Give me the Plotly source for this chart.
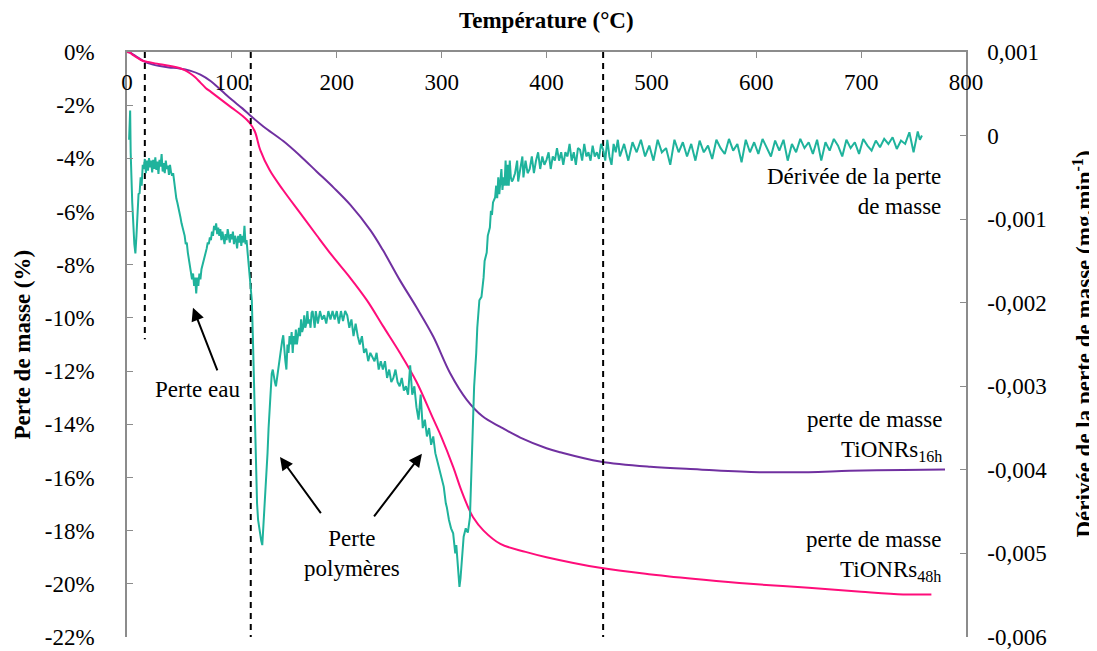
import plotly.graph_objects as go

# ---------------- data ----------------
temp_16h = [0, 3, 6, 10, 15, 20, 30, 40, 50, 60, 70, 80, 90, 100, 110, 117, 130, 149, 165, 181,
            197, 213, 232, 244, 260, 276, 292, 308, 324, 339, 356, 375, 400, 413, 451, 499,
            546, 603, 650, 689, 740, 780]
mass_16h = [0, -0.02, -0.1, -0.2, -0.32, -0.42, -0.52, -0.58, -0.62, -0.7, -0.85, -1.1, -1.45, -1.8,
            -2.12, -2.37, -2.8, -3.35, -3.9, -4.5, -5.1, -5.75, -6.7, -7.45, -8.57, -9.6, -10.7,
            -12.07, -13.08, -13.7, -14.1, -14.5, -14.9, -15.05, -15.4, -15.6, -15.7, -15.8, -15.8,
            -15.75, -15.72, -15.7]

temp_48h = [0, 3, 6, 10, 15, 20, 30, 40, 50, 55, 60, 65, 70, 75, 80, 90, 100, 110, 117, 122, 127,
            136, 149, 165, 181, 196, 213, 229, 244, 260, 276, 292, 300, 311, 318,
            324, 330, 340, 356, 380, 400, 451, 500, 550, 594, 650, 700, 740, 767]
mass_48h = [0, -0.03, -0.12, -0.22, -0.33, -0.38, -0.45, -0.52, -0.6, -0.68, -0.8, -0.95, -1.15,
            -1.35, -1.5, -1.8, -2.1, -2.4, -2.67, -3.0, -3.68, -4.44, -5.2, -6.05, -6.9, -7.68,
            -8.5, -9.35, -10.3, -11.3, -12.4, -13.8, -14.5, -15.6, -16.4, -17.0, -17.5,
            -18.0, -18.5, -18.8, -19.0, -19.4, -19.65, -19.85, -20.0, -20.15, -20.3, -20.4, -20.4]

temp_deriv = [2, 3, 3.5, 5, 7, 8, 9, 10, 11, 12, 13, 14, 15, 16,
              17, 18, 19, 20, 21, 22, 23, 24, 25, 26, 27, 28, 29, 30, 31, 32, 33, 34, 35, 36, 37, 38,
              39, 40, 41, 42, 43,
              44, 45, 46, 47, 48, 49, 50, 51, 52, 53, 54, 55, 56, 57, 58, 59, 60, 61, 62, 63, 64, 65,
              66, 67, 68, 69, 70, 71, 72, 73, 74, 75, 76, 77, 78, 79, 80, 81, 82, 83, 84, 85, 86, 87,
              88, 89, 90, 91, 92, 93, 94, 95, 96, 97, 98, 99, 100, 101, 102, 103, 104, 105, 106, 107,
              108, 109, 110, 111, 112, 113, 114, 115, 116, 117, 118, 119, 120, 121, 122, 123, 124,
              125, 126, 127, 128, 129, 130, 131, 132, 133, 134, 135, 136, 137, 138, 139, 140, 141,
              142, 143, 144, 145, 146, 147, 148, 149, 150, 151, 152, 153, 154, 155, 156, 157, 158,
              159, 160, 161, 162, 163, 164, 165, 166, 167, 168, 169, 170, 171, 172, 173, 174, 175,
              176, 177, 178, 179, 180, 182, 184, 186, 188, 190, 192, 194, 196, 198, 200, 202, 204,
              206, 208, 210, 212, 214, 216, 218, 220, 222, 224, 226, 228, 230, 232, 234, 236, 238,
              240, 242, 244, 246, 248, 250, 252, 254, 256, 258, 260, 262, 264, 266, 268, 270, 271,
              272, 274, 276, 278, 279, 280, 281, 282, 284, 286, 288, 290, 292, 294, 296, 298, 300,
              302, 304, 305, 307, 309, 311, 313, 314, 316, 317, 318, 319, 320, 321, 323, 325, 327,
              328, 329, 330, 331, 333, 334, 336, 338, 340, 341, 343, 344, 346, 347, 348, 349, 351,
              352, 353, 354, 355, 356, 357, 358, 359, 360, 361, 362, 363, 364, 365, 366, 367, 368,
              370, 372, 373, 375, 377, 378, 380, 382, 384, 386, 388, 390, 392, 394, 396, 398, 400,
              402, 404, 406, 408, 410, 412, 414, 416, 418, 420, 422, 424, 426, 428, 430, 432, 434,
              436, 438, 440, 442, 444, 446, 448, 450, 452, 454, 456, 458, 460, 462, 464, 466, 468,
              470, 474, 478, 482, 486, 490, 494, 498, 502, 506, 510, 514, 518, 522, 526, 530, 534,
              538, 542, 546, 550, 554, 558, 562, 566, 570, 574, 578, 582, 586, 590, 594, 598, 602,
              606, 610, 614, 618, 622, 626, 630, 634, 638, 642, 646, 650, 654, 658, 662, 666, 670,
              674, 678, 682, 686, 690, 694, 698, 702, 706, 710, 714, 718, 722, 726, 730, 734, 738,
              742, 746, 750, 754, 756, 758, 760, 762, 764, 767]
deriv = [-0.00005, 0.0003, -0.0002, -0.0008, -0.0013, -0.00141, -0.0012, -0.0009, -0.0007, -0.00069,
         -0.0005, -0.0006, -0.00035, -0.0004,
         -0.00028, -0.00045, -0.0003, -0.00042, -0.00027, -0.00038, -0.0003, -0.00044, -0.00029,
         -0.0004, -0.00026, -0.00041, -0.00031, -0.00046, -0.00029, -0.00037, -0.00022, -0.00043,
         -0.00033, -0.00045, -0.0003, -0.0004, -0.00036, -0.00047, -0.00035, -0.00044, -0.00048,
         -0.00045, -0.00058, -0.00062, -0.00075, -0.0008, -0.00085, -0.0009, -0.00098, -0.00105,
         -0.0011, -0.00118, -0.0012, -0.0013, -0.00128, -0.0014, -0.00148, -0.00152, -0.0016,
         -0.00172, -0.00165, -0.0018, -0.0017,
         -0.00189, -0.0017, -0.0018, -0.00165, -0.00172, -0.0016, -0.00155, -0.00153, -0.00148,
         -0.0014, -0.00135, -0.00128, -0.0013, -0.00122, -0.00125, -0.00115, -0.0012, -0.00108,
         -0.00113, -0.00105, -0.00118, -0.0011,
         -0.0012, -0.00112, -0.00125, -0.00115, -0.00122, -0.0013, -0.00118, -0.00125, -0.00112,
         -0.00122, -0.00128, -0.00118, -0.00124, -0.00115, -0.0013, -0.0012, -0.00125, -0.00135,
         -0.0012, -0.00128,
         -0.00118, -0.00132, -0.0012, -0.00128, -0.00108, -0.0013, -0.00125, -0.0014, -0.00155,
         -0.0016, -0.00175, -0.00197, -0.0024, -0.003, -0.0036, -0.0041, -0.0044,
         -0.0046, -0.0047, -0.0048, -0.00485, -0.0049, -0.0047, -0.0044, -0.0042, -0.004, -0.0038,
         -0.0035, -0.0033, -0.0031, -0.00285, -0.0028, -0.0029, -0.00295,
         -0.003, -0.0029, -0.0028, -0.0027, -0.0026, -0.0025, -0.00245, -0.00239, -0.0026, -0.0027,
         -0.0028, -0.0025, -0.0026, -0.0024, -0.0025, -0.00235, -0.0026,
         -0.0024, -0.0025, -0.00232, -0.0025, -0.0024, -0.0023, -0.0024, -0.0022, -0.00235, -0.0023,
         -0.00215, -0.0023, -0.00225, -0.0021, -0.00225, -0.0022, -0.0023,
         -0.00212, -0.0021, -0.0022, -0.0023, -0.0021, -0.00225, -0.0021, -0.0022, -0.00215,
         -0.00225, -0.0021, -0.0022, -0.0021, -0.0022, -0.0021, -0.00225, -0.0021,
         -0.00222, -0.0021, -0.00215, -0.0023, -0.0022, -0.0024, -0.00225, -0.0024, -0.0025,
         -0.0024, -0.0026, -0.00255, -0.0027, -0.0026, -0.00265, -0.0027, -0.0026,
         -0.0028, -0.0027, -0.0028, -0.0027, -0.0029, -0.0028, -0.00295, -0.0029, -0.0028,
         -0.00295, -0.003, -0.0029, -0.00305, -0.003, -0.0031, -0.00275, -0.003,
         -0.0031, -0.003, -0.00325, -0.0034, -0.0032, -0.0031, -0.0033, -0.0035, -0.0034, -0.0036,
         -0.0035, -0.0037, -0.0036, -0.0038, -0.0039, -0.004, -0.0041,
         -0.0042, -0.0044, -0.00445, -0.0046, -0.0047, -0.00476, -0.005, -0.0049, -0.0052, -0.0054,
         -0.0053, -0.0051, -0.0049, -0.0048, -0.0047, -0.00475, -0.00457,
         -0.0042, -0.0038, -0.0035, -0.003, -0.0026, -0.0023, -0.00197, -0.00193, -0.0017, -0.0015,
         -0.0014, -0.0012, -0.0011, -0.0009, -0.00095, -0.0008, -0.00074,
         -0.0006, -0.00075, -0.0005, -0.0007, -0.00053, -0.0004, -0.00065, -0.0005, -0.0006, -0.0003,
         -0.0006, -0.00035, -0.0006, -0.0003, -0.0005, -0.00055, -0.00053,
         -0.00045, -0.0003, -0.00055, -0.0004, -0.00025, -0.0005, -0.0003, -0.00045, -0.0004,
         -0.00025, -0.00045, -0.0003, -0.0002, -0.0004, -0.00025, -0.00035, -0.00029,
         -0.0002, -0.0004, -0.00025, -0.0003, -0.00015, -0.0003, -0.0002, -0.00035, -0.0002,
         -0.00025, -0.0001, -0.0003, -0.0002, -0.00035, -0.00015, -0.00017, -0.0003,
         -0.0001, -0.00025, -0.0002, -0.0003, -0.00012, -0.00025, -0.0002, -0.00028, -0.0001,
         -0.00017, -0.0003, -0.00005, -0.00025, -0.00035, -0.0001, -0.0002, -0.00005,
         -0.00025, -0.0001, -0.0003, -0.00008, -0.0002, -0.00005, -0.00025, -0.00012, -0.0003,
         -0.00005, -0.0002, -0.00015, -0.00035, -0.00005, -0.0002, -0.00008, -0.00025,
         -0.0001, -0.0003, -0.00006, -0.0002, -0.00012, -0.00028, -0.00005, -0.00015, -0.00022,
         -0.00004, -0.00018, -0.0001, -0.00032, -0.00005, -0.0002, -0.00008, -0.00022,
         -0.00004, -0.00015, -0.00025, -0.00006, -0.00018, -0.00005, -0.0003, -0.0001, -0.0002,
         -0.00004, -0.00015, -0.00008, -0.00022, -0.00005, -0.0003, -0.00008, -0.00018,
         -0.00004, -0.00012, -0.00025, -0.00005, -0.00015, -0.00008, -0.00022, -0.00004, -0.00012,
         -0.00018, -0.00006, -0.00014, -0.00004, -0.0001, -0.00002, -0.00016, -0.00006,
         -0.0001, 0.00004, -0.0002, 0.00005, -0.00005, 0.0]

x_ticks = [0, 100, 200, 300, 400, 500, 600, 700, 800]
left_ticks = [0, -2, -4, -6, -8, -10, -12, -14, -16, -18, -20, -22]
left_tick_text = ["0%", "-2%", "-4%", "-6%", "-8%", "-10%", "-12%", "-14%", "-16%", "-18%", "-20%", "-22%"]
right_ticks = [0.001, 0, -0.001, -0.002, -0.003, -0.004, -0.005, -0.006]
right_tick_text = ["0,001", "0", "-0,001", "-0,002", "-0,003", "-0,004", "-0,005", "-0,006"]

# dashed markers: temperature, bottom limit (%)
marker_temps = [17, 118, 454]
marker_bottoms = [-10.8, -22, -22]

# ---------------- figure ----------------
FONT = "Liberation Serif"
AXIS_COLOR = "#8c8c8c"

fig = go.Figure()

fig.add_trace(go.Scatter(x=temp_deriv, y=deriv, mode="lines", yaxis="y2",
                         line=dict(color="#1fb39c", width=2), showlegend=False))
fig.add_trace(go.Scatter(x=temp_16h, y=mass_16h, mode="lines", line_shape="spline",
                         line=dict(color="#7030a0", width=2), showlegend=False))
fig.add_trace(go.Scatter(x=temp_48h, y=mass_48h, mode="lines", line_shape="spline",
                         line=dict(color="#ff0d7a", width=2), showlegend=False))

for t, b in zip(marker_temps, marker_bottoms):
    fig.add_trace(go.Scatter(x=[t, t], y=[0, b], mode="lines",
                             line=dict(color="black", width=2, dash="6px,5px"),
                             showlegend=False, hoverinfo="skip"))

txt = dict(family=FONT, size=23, color="black")
ttl = dict(family=FONT, size=23, color="black")

annotations = [
    dict(x=778, y=-5.23, xref="x", yref="y", text="Dérivée de la perte<br>de masse",
         showarrow=False, xanchor="right", align="right", font=txt),
    dict(x=779, y=-14.45, xref="x", yref="y", text="perte de masse<br>TiONRs<sub>16h</sub>",
         showarrow=False, xanchor="right", align="right", font=txt),
    dict(x=778, y=-18.95, xref="x", yref="y", text="perte de masse<br>TiONRs<sub>48h</sub>",
         showarrow=False, xanchor="right", align="right", font=txt),
    dict(x=67, y=-12.7, xref="x", yref="y", text="Perte eau", showarrow=False, font=txt),
    dict(x=215, y=-18.85, xref="x", yref="y", text="Perte<br>polymères", showarrow=False,
         font=txt, align="center"),
    # arrows
    dict(x=62.9, y=-9.62, ax=86.7, ay=-12.03, xref="x", yref="y", axref="x", ayref="y",
         text="", showarrow=True, arrowhead=2, arrowsize=1.3, arrowwidth=2, arrowcolor="black"),
    dict(x=145.9, y=-15.23, ax=185.9, ay=-17.4, xref="x", yref="y", axref="x", ayref="y",
         text="", showarrow=True, arrowhead=2, arrowsize=1.3, arrowwidth=2, arrowcolor="black"),
    dict(x=281.2, y=-15.11, ax=234.5, ay=-17.52, xref="x", yref="y", axref="x", ayref="y",
         text="", showarrow=True, arrowhead=2, arrowsize=1.3, arrowwidth=2, arrowcolor="black"),
    # axis titles
    dict(x=0.5, y=1.0, xref="paper", yref="paper", yshift=32, text="<b>Température (°C)</b>",
         showarrow=False, font=ttl, yanchor="middle"),
    dict(x=0, y=0.5, xref="paper", yref="paper", xshift=-105, text="<b>Perte de masse (%)</b>",
         showarrow=False, font=ttl, textangle=-90, xanchor="center"),
    dict(x=1, y=0.5, xref="paper", yref="paper", xshift=117,
         text="<b>Dérivée de la perte de masse (mg.min<sup>-1</sup>)</b>",
         showarrow=False, font=ttl, textangle=-90, xanchor="center"),
]

# page body has an 8px default margin, so the figure is sized/offset to compensate
fig.update_layout(
    template="none",
    width=1089, height=643,
    margin=dict(l=119, r=131, t=44, b=14, autoexpand=False),
    paper_bgcolor="white", plot_bgcolor="white",
    font=dict(family=FONT, size=23, color="black"),
    annotations=annotations,
    xaxis=dict(range=[0, 800], side="top", tickvals=x_ticks, ticks="inside", ticklen=6,
               tickcolor=AXIS_COLOR, showline=True, linecolor=AXIS_COLOR, linewidth=1.5,
               ticklabelposition="outside", ticklabelstandoff=-49, showgrid=False,
               zeroline=False, tickfont=txt, automargin=False),
    yaxis=dict(range=[-22, 0], tickvals=left_ticks, ticktext=left_tick_text, ticks="inside",
               ticklen=6, tickcolor=AXIS_COLOR, showline=True, linecolor=AXIS_COLOR, linewidth=1.5,
               showgrid=False, zeroline=False, ticklabelstandoff=26, tickfont=txt,
               automargin=False),
    yaxis2=dict(range=[-0.006, 0.001], overlaying="y", side="right", tickvals=right_ticks,
                ticktext=right_tick_text, ticks="inside", ticklen=6, tickcolor=AXIS_COLOR,
                showline=True, linecolor=AXIS_COLOR, linewidth=1.5, showgrid=False,
                zeroline=False, ticklabelstandoff=15, tickfont=txt, automargin=False),
)

fig.write_html("out.html")
